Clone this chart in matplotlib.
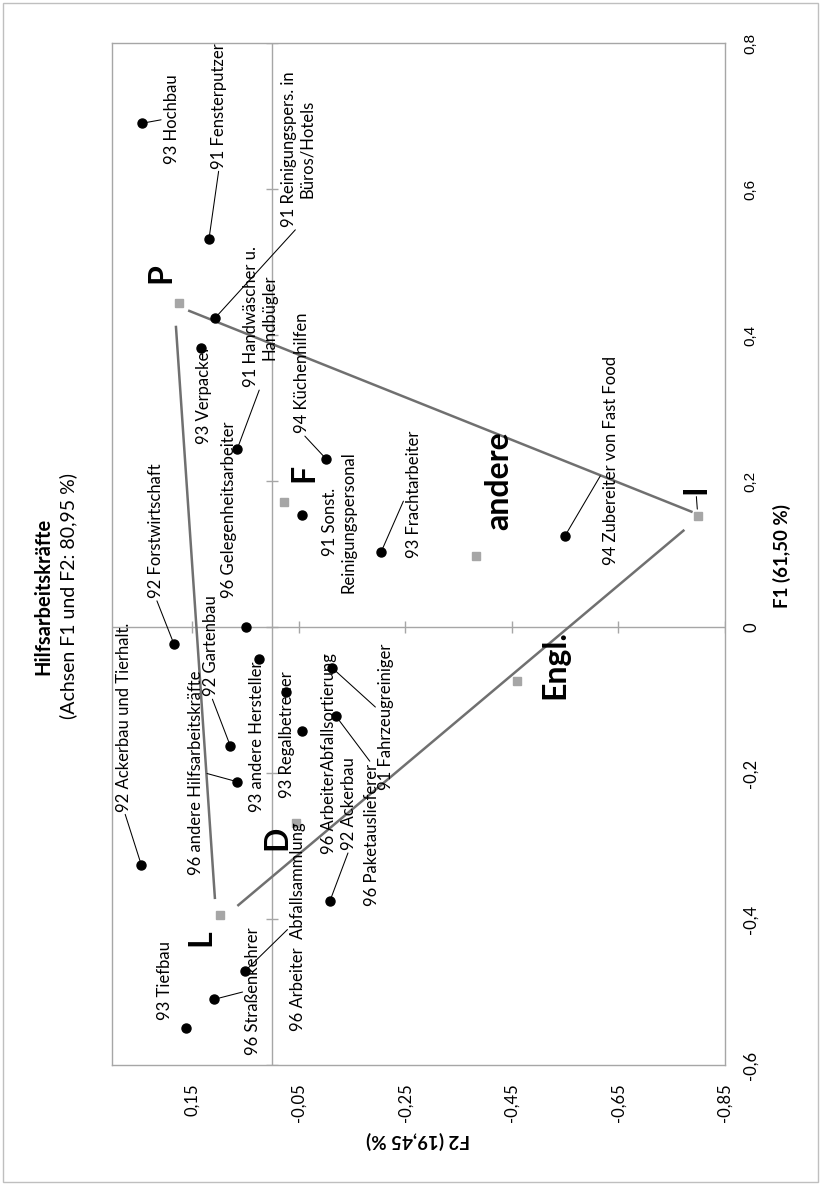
import matplotlib.pyplot as plt
from matplotlib.patches import Rectangle

plt.rcParams['font.family'] = ['Lato', 'DejaVu Sans']

# occupations: F1 / F2 coordinates
berufe = ['93 Hochbau', '91 Fensterputzer', '91 Reinigungspers. in\nBüros/Hotels',
          '91 Handwäscher u.\nHandbügler', '93 Verpacker', '96 Gelegenheitsarbeiter',
          '94 Küchenhilfen', '91 Sonst.\nReinigungspersonal', '93 Frachtarbeiter',
          '94 Zubereiter von Fast Food', '92 Forstwirtschaft', '92 Ackerbau und Tierhalt.',
          '96 andere Hilfsarbeitskräfte', '92 Gartenbau', '93 andere Hersteller',
          '93 Regalbetreuer', '96 ArbeiterAbfallsortierung', '91 Fahrzeugreiniger',
          '92 Ackerbau', '96 Paketauslieferer', '96 Arbeiter  Abfallsammlung',
          '96 Straßenkehrer', '93 Tiefbau']
f1 = [0.690, 0.532, 0.423, 0.244, 0.382, 0.000, 0.230, 0.153, 0.103, 0.125, -0.023,
      -0.326, -0.212, -0.163, -0.044, -0.089, -0.142, -0.056, -0.375, -0.122, -0.471,
      -0.510, -0.549]
f2 = [0.244, 0.118, 0.107, 0.065, 0.133, 0.048, -0.102, -0.057, -0.205, -0.550, 0.184,
      0.245, 0.065, 0.078, 0.024, -0.027, -0.057, -0.113, -0.109, -0.120, 0.050,
      0.108, 0.161]

# group points
gruppen = ['P', 'F', 'andere', 'Engl.', 'I', 'D', 'L']
g_f1 = [0.444, 0.171, 0.097, -0.074, 0.152, -0.268, -0.395]
g_f2 = [0.174, -0.023, -0.383, -0.460, -0.799, -0.045, 0.097]

# triangle sides P-I, P-L, L-I (shortened as in the source)
seiten_f1 = [[0.433, 0.158], [0.411, -0.371], [-0.381, 0.132]]
seiten_f2 = [[0.155, -0.787], [0.180, 0.107], [0.063, -0.772]]

f1_ticks = [-0.6, -0.4, -0.2, 0, 0.2, 0.4, 0.6, 0.8]
f2_ticks = [-0.85, -0.65, -0.45, -0.25, -0.05, 0.15]

# label offsets (pixels, in the rotated picture); None = no leader line,
# otherwise the point of the label box where the leader starts
lab_off = [(30, 4), (10, 133), (83, 169), (23, 132), (3, -47), (-17, 117), (-24, 86),
           (37, -7), (33, 57), (46, 75), (-18, 113), (-17, 148), (-41, 9), (-19, 100),
           (-2, -78), (1, -43), (27, -23), (54, -49), (19, 97), (36, -119), (53, 44),
           (39, 8), (-21, 47)]
leader = [(0, 0.5), (0.5, 0), (0.5, 0), (0.5, 0), None, None, (0.5, 0), None, (0, 0.5),
          (0, 0.45), (0.5, 0), (0.5, 0), (1, 0.5), (0.5, 0), None, None, None, (0, 0.55),
          (0.5, 0), (0.5, 1), (0, 0.5), (0, 0.5), None]
g_off = [(-18, 30), (20, 29), (23, 76), (38, 17), (-2, 27), (-19, -15), (-19, -22)]

W, H = 821, 1185
fig = plt.figure(figsize=(W / 100, H / 100), dpi=100)
ax = fig.add_axes([112 / W, 1 - 1065 / H, 613 / W, 1022 / H])

grau = '#A6A6A6'
ax.axhline(0, color=grau, lw=1, zorder=1)
ax.axvline(0, color=grau, lw=1, zorder=1)
ax.plot([0] * len(f1_ticks), f1_ticks, ls='none', marker='_', ms=8, mew=1, color=grau, zorder=1)
ax.plot(f2_ticks, [0] * len(f2_ticks), ls='none', marker='|', ms=8, mew=1, color=grau, zorder=1)

for sx, sy in zip(seiten_f2, seiten_f1):
    ax.plot(sx, sy, color='#707070', lw=1.8, zorder=2)

ax.plot(f2, f1, 'o', color='black', ms=6.5, zorder=3)
ax.plot(g_f2, g_f1, 's', color=grau, ms=6, zorder=3)

for name, x, y, (dx, dy), rp in zip(berufe, f2, f1, lab_off, leader):
    ap = None
    if rp is not None:
        ap = dict(arrowstyle='-', color='black', lw=0.75, shrinkA=0, shrinkB=2, relpos=rp)
    ax.annotate(name, (x, y), xytext=(dx, dy), textcoords='offset pixels', rotation=90,
                ha='center', va='center', multialignment='center', fontsize=12,
                arrowprops=ap, zorder=4)

for name, x, y, (dx, dy) in zip(gruppen, g_f2, g_f1, g_off):
    ap = dict(arrowstyle='-', color='black', lw=0.75, shrinkA=0, shrinkB=5) if name == 'I' else None
    ax.annotate(name, (x, y), xytext=(dx, dy), textcoords='offset pixels', rotation=90,
                ha='center', va='center', fontsize=23, fontweight='bold',
                arrowprops=ap, zorder=4)

ax.set_xlim(0.30, -0.85)
ax.set_ylim(-0.6, 0.8)

def komma(v):
    s = ('%.2f' % v).rstrip('0').rstrip('.')
    return s.replace('.', ',')

ax.set_xticks(f2_ticks, [komma(v) for v in f2_ticks], rotation=90, ha='center', va='top')
ax.yaxis.tick_right()
ax.set_yticks(f1_ticks, [komma(v) for v in f1_ticks], rotation=90, va='center')
ax.tick_params(axis='both', length=0, pad=13, labelsize=12)
for lab in ax.get_yticklabels():
    if not lab.get_text().startswith('-') and lab.get_text() != '0':
        lab.set_fontfamily('Liberation Sans')
        lab.set_fontsize(11)

for sp in ax.spines.values():
    sp.set_color(grau)
    sp.set_linewidth(1)

fig.text(43 / W, 1 - 596 / H, 'Hilfsarbeitskräfte', rotation=90, ha='center', va='center',
         fontsize=14.5, fontweight='bold')
fig.text(68 / W, 1 - 596 / H, '(Achsen F1 und F2: 80,95 %)', rotation=90, ha='center',
         va='center', fontsize=14)
fig.text(782 / W, 1 - 556 / H, 'F1 (61,50 %)', rotation=90, ha='center', va='center',
         fontsize=13.5, fontweight='bold')
fig.text(418 / W, 1 - 1140 / H, 'F2 (19,45 %)', rotation=180, ha='center', va='center',
         fontsize=13.5, fontweight='bold')

fig.patches.append(Rectangle((3 / W, 3 / H), 815 / W, 1179 / H, transform=fig.transFigure,
                             fill=False, ec='#BFBFBF', lw=1))

fig.savefig('out.png', dpi=100)
